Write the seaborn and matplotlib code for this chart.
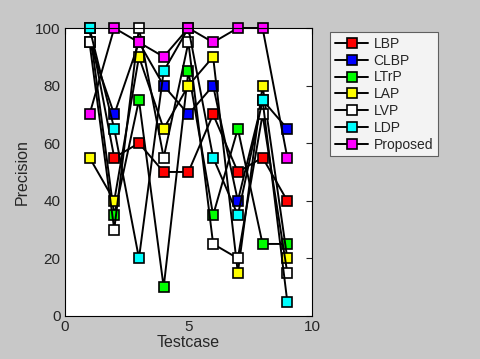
import pandas as pd
import seaborn as sns
import matplotlib.pyplot as plt

testcase = [1, 2, 3, 4, 5, 6, 7, 8, 9]
lbp      = [100, 55, 60, 50, 50, 70, 50, 55, 40]
clbp     = [95, 70, 95, 80, 70, 80, 40, 75, 65]
ltrp     = [100, 35, 75, 10, 85, 35, 65, 25, 25]
lap      = [55, 40, 90, 65, 80, 90, 15, 80, 20]
lvp      = [95, 30, 100, 55, 95, 25, 20, 70, 15]
ldp      = [100, 65, 20, 85, 100, 55, 35, 75, 5]
proposed = [70, 100, 95, 90, 100, 95, 100, 100, 55]

names = ['LBP', 'CLBP', 'LTrP', 'LAP', 'LVP', 'LDP', 'Proposed']
colors = ['#ff0000', '#0000ff', '#00ff00', '#ffff00', '#ffffff', '#00ffff', '#ff00ff']

df = pd.DataFrame({'Testcase': testcase, 'LBP': lbp, 'CLBP': clbp, 'LTrP': ltrp, 'LAP': lap,
                   'LVP': lvp, 'LDP': ldp, 'Proposed': proposed})

sns.set_style('white')
plt.rcParams['font.family'] = ['Liberation Sans', 'DejaVu Sans']

fig = plt.figure(figsize=(4.8, 3.59), dpi=100, facecolor='#c8c8c8')
ax = fig.add_axes([0.135, 0.12, 0.515, 0.802])
for name, c in zip(names, colors):
    sns.lineplot(data=df, x='Testcase', y=name, ax=ax, color='black', lw=1.4,
                 marker='s', markersize=7.5, markerfacecolor=c, markeredgecolor='black',
                 markeredgewidth=1.2, label=name, clip_on=False)

ax.set_xlim(0, 10)
ax.set_ylim(0, 100)
ax.set_xticks([0, 5, 10])
ax.set_yticks([0, 20, 40, 60, 80, 100])
ax.set_xlabel('Testcase', fontsize=11.5, labelpad=1)
ax.set_ylabel('Precision', fontsize=11.5, labelpad=4)
ax.tick_params(direction='in', top=True, right=True, length=4, labelsize=11, pad=3)
for s in ax.spines.values():
    s.set_color('black')
    s.set_linewidth(0.8)

leg = ax.legend(loc='upper left', bbox_to_anchor=(0.673, 0.93), bbox_transform=fig.transFigure,
                frameon=True, fancybox=False, fontsize=10, handlelength=2.4,
                labelspacing=0.2, borderpad=0.35, handletextpad=0.4)
leg.get_frame().set_edgecolor('#404040')
leg.get_frame().set_linewidth(0.8)

fig.savefig('out.png', dpi=100, facecolor=fig.get_facecolor())
